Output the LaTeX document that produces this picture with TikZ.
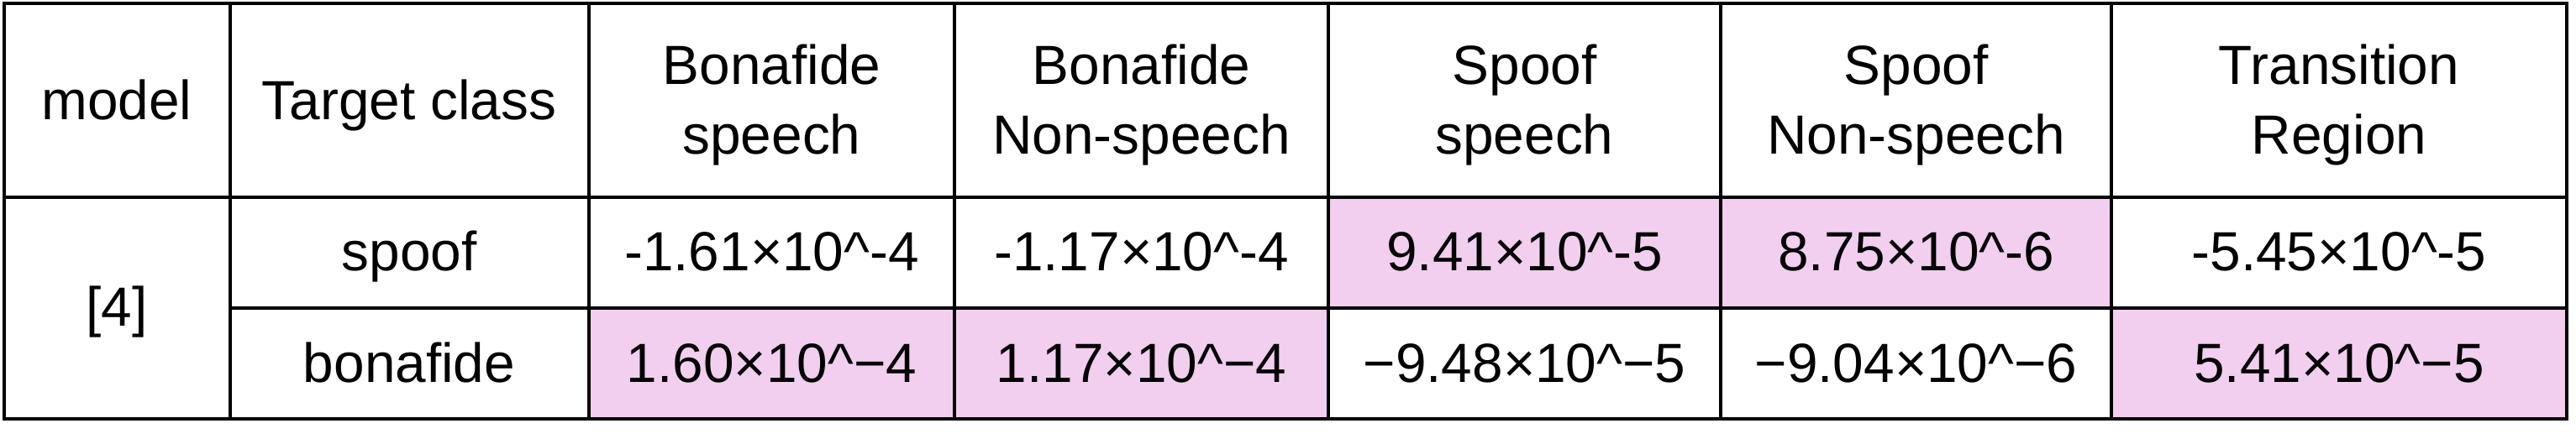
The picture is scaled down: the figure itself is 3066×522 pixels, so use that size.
\documentclass[tikz,border=0pt]{standalone}
\usepackage{fontspec}
\setmainfont{Liberation Sans}
\definecolor{cellpink}{RGB}{242,206,239}
\tikzset{
  gridline/.style={line width=0.4mm, draw=black},
  celltext/.style={anchor=base, inner sep=0pt, align=center, font=\fontsize{18.7pt}{23.6pt}\selectfont},
}
\newcommand{\tenpow}{×10\textasciicircum}
\begin{document}
\begin{tikzpicture}[x=0.1mm,y=-0.1mm]
  \useasboundingbox (0,0) rectangle (3066,522);

  % highlighted cells
  \fill[cellpink] (1581,234.5) rectangle (2513,367);
  \fill[cellpink] (701,367) rectangle (1581,499);
  \fill[cellpink] (2513,367) rectangle (3055,499);

  % grid
  \draw[gridline] (5,4) rectangle (3055,499);
  \draw[gridline] (5,234.5)--(3055,234.5);
  \draw[gridline] (273.5,367)--(3055,367);
  \foreach \x in {273.5,701,1136,1581,2048,2513}
    \draw[gridline] (\x,4)--(\x,499);

  % header (base = last line)
  \node[celltext] (model)  at (139,142)   {model};
  \node[celltext] (target) at (487,142)   {Target class};
  \node[celltext] (bsp)    at (918.5,183) {Bonafide\\speech};
  \node[celltext] (bnsp)   at (1358.5,183){Bonafide\\Non-speech};
  \node[celltext] (ssp)    at (1814.5,183){Spoof\\speech};
  \node[celltext] (snsp)   at (2280.5,183){Spoof\\Non-speech};
  \node[celltext] (trans)  at (2784,183)  {Transition\\Region};

  % rows
  \node[celltext] (ref)    at (139,388)   {[4]};
  \node[celltext] (spoof)  at (487,322)   {spoof};
  \node[celltext] (bona)   at (487,455)   {bonafide};

  \node[celltext] (s1) at (918.5,322)  {-1.61\tenpow-4};
  \node[celltext] (s2) at (1358.5,322) {-1.17\tenpow-4};
  \node[celltext] (s3) at (1814.5,322) {9.41\tenpow-5};
  \node[celltext] (s4) at (2280.5,322) {8.75\tenpow-6};
  \node[celltext] (s5) at (2784,322)   {-5.45\tenpow-5};

  \node[celltext] (b1) at (918.5,455)  {1.60\tenpow−4};
  \node[celltext] (b2) at (1358.5,455) {1.17\tenpow−4};
  \node[celltext] (b3) at (1814.5,455) {−9.48\tenpow−5};
  \node[celltext] (b4) at (2280.5,455) {−9.04\tenpow−6};
  \node[celltext] (b5) at (2784,455)   {5.41\tenpow−5};
\end{tikzpicture}
\end{document}
